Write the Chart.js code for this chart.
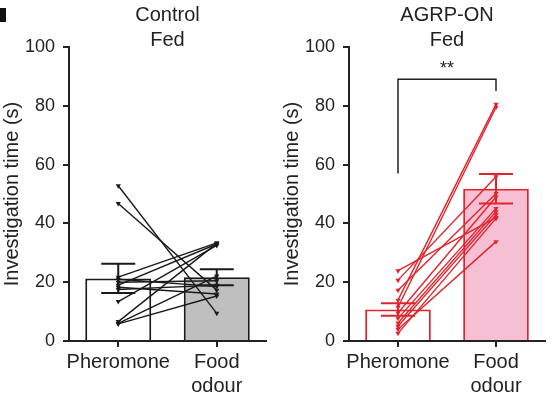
<!DOCTYPE html>
<html>
<head>
<meta charset="utf-8">
<script src="https://cdn.jsdelivr.net/npm/chart.js@4.4.0/dist/chart.umd.min.js"></script>
<style>
html, body { margin: 0; padding: 0; background: #fff; overflow: hidden; }
.panel { position: absolute; top: 0; height: 398px; }
</style>
</head>
<body>
<div class="panel" style="left:0;width:280px"><canvas id="control"></canvas></div>
<div class="panel" style="left:280px;width:278px"><canvas id="agrp"></canvas></div>
<script>
// data
const categories = ["Pheromone", ["Food", "odour"]];
const yTicks = [0, 20, 40, 60, 80, 100];

const controlMeans = [21.3, 21.7];
const controlSem = [5.0, 2.7];
const controlPheromone = [52.8, 46.8, 21.7, 19.0, 13.4, 6.6, 6.0, 5.8, 18.3, 21.0, 20.0, 17.5];
const controlFood = [9.4, 17.3, 33.4, 33.0, 32.5, 33.2, 22.1, 15.3, 16.0, 18.5, 20.5, 19.0];

const agrpMeans = [10.7, 51.8];
const agrpSem = [2.1, 5.0];
const agrpPheromone = [13.9, 11.5, 4.0, 23.9, 20.7, 17.3, 9.5, 7.7, 6.1, 5.0, 2.6];
const agrpFood = [80.5, 79.5, 33.8, 42.0, 55.9, 50.2, 49.0, 45.1, 44.0, 42.9, 41.7];
const agrpBracket = [89, 57, 85]; // top, left foot, right foot
const agrpStars = "**";

Chart.defaults.font.family = "'Liberation Sans', Arial, sans-serif";
Chart.defaults.color = "#222";

const ink = "#222";
const red = "#e3232c";

function overlay(titles, means, sem, color, bracket, mark) {
    return {
        id: "overlay",
        afterDatasetsDraw(chart) {
            const { ctx, chartArea } = chart;
            const x = chart.scales.x, y = chart.scales.y;
            ctx.save();
            // error bars
            ctx.strokeStyle = color;
            ctx.lineWidth = 2;
            means.forEach((m, i) => {
                const cx = x.getPixelForValue(i);
                const top = y.getPixelForValue(m + sem[i]);
                const bot = y.getPixelForValue(m - sem[i]);
                ctx.beginPath();
                ctx.moveTo(cx, top); ctx.lineTo(cx, bot);
                ctx.moveTo(cx - 17, top); ctx.lineTo(cx + 17, top);
                ctx.moveTo(cx - 17, bot); ctx.lineTo(cx + 17, bot);
                ctx.stroke();
            });
            // titles
            ctx.fillStyle = ink;
            ctx.font = "20px 'Liberation Sans', Arial, sans-serif";
            ctx.textAlign = "center";
            ctx.textBaseline = "middle";
            const mid = (chartArea.left + chartArea.right) / 2;
            titles.forEach((t, i) => ctx.fillText(t, mid, chartArea.top - 32 + 25 * i));
            // significance bracket
            if (bracket) {
                const x0 = x.getPixelForValue(0), x1 = x.getPixelForValue(1);
                const yt = y.getPixelForValue(bracket[0]);
                ctx.strokeStyle = ink;
                ctx.lineWidth = 1.5;
                ctx.beginPath();
                ctx.moveTo(x0, y.getPixelForValue(bracket[1]));
                ctx.lineTo(x0, yt);
                ctx.lineTo(x1, yt);
                ctx.lineTo(x1, y.getPixelForValue(bracket[2]));
                ctx.stroke();
                ctx.font = "18px 'Liberation Sans', Arial, sans-serif";
                ctx.textBaseline = "alphabetic";
                ctx.fillText(mark, (x0 + x1) / 2, yt - 5);
            }
            ctx.restore();
        }
    };
}

const panelLetter = {
    id: "panelLetter",
    afterDraw(chart) {
        chart.ctx.fillStyle = "#111";
        chart.ctx.fillRect(0, 8, 6, 14);
    }
};

function drawPanel(id, opts) {
    const lines = opts.pher.map((p, i) => ({
        type: "line",
        data: [p, opts.food[i]],
        borderColor: opts.line,
        borderWidth: 1.4,
        pointStyle: "triangle",
        rotation: 180,
        pointRadius: 3,
        pointBackgroundColor: opts.line,
        pointBorderColor: opts.line,
        pointBorderWidth: 0,
        order: 1,
        clip: false
    }));
    const plugins = [overlay(opts.titles, opts.means, opts.sem, opts.line, opts.bracket, opts.mark)];
    if (opts.letter) plugins.push(panelLetter);
    return new Chart(document.getElementById(id), {
        type: "bar",
        data: {
            labels: categories,
            datasets: [{
                type: "bar",
                data: opts.means,
                backgroundColor: opts.fills,
                borderColor: opts.line,
                borderWidth: 2,
                borderSkipped: "start",
                barPercentage: 0.67,
                categoryPercentage: 1,
                order: 10
            }, ...lines]
        },
        options: {
            responsive: true,
            maintainAspectRatio: false,
            animation: false,
            events: [],
            layout: { padding: { top: 47, right: opts.right, left: 0, bottom: 0 } },
            plugins: { legend: { display: false }, tooltip: { enabled: false } },
            scales: {
                x: {
                    grid: { offset: false, drawOnChartArea: false, tickLength: 6, color: ink, lineWidth: 2 },
                    border: { color: ink, width: 2 },
                    ticks: { font: { size: 20 }, color: ink, padding: 3, maxRotation: 0, autoSkip: false },
                    afterFit: s => { s.height = 57; }
                },
                y: {
                    min: 0,
                    max: 100,
                    afterBuildTicks: s => { s.ticks = yTicks.map(v => ({ value: v })); },
                    grid: { drawOnChartArea: false, tickLength: 6, color: ink, lineWidth: 2 },
                    border: { color: ink, width: 2 },
                    ticks: { font: { size: 18 }, color: ink, padding: 8 },
                    title: { display: true, text: "Investigation time (s)", font: { size: 20 }, color: ink, padding: 0 },
                    afterFit: s => { s.width = 69; }
                }
            }
        },
        plugins
    });
}

drawPanel("control", {
    titles: ["Control", "Fed"],
    means: controlMeans, sem: controlSem,
    pher: controlPheromone, food: controlFood,
    fills: ["#ffffff", "#bfbfbf"], line: "#1a1a1a",
    right: 14, letter: true
});

drawPanel("agrp", {
    titles: ["AGRP-ON", "Fed"],
    means: agrpMeans, sem: agrpSem,
    pher: agrpPheromone, food: agrpFood,
    fills: ["#ffffff", "#f6bfd3"], line: red,
    right: 13, bracket: agrpBracket, mark: agrpStars
});
</script>
</body>
</html>
